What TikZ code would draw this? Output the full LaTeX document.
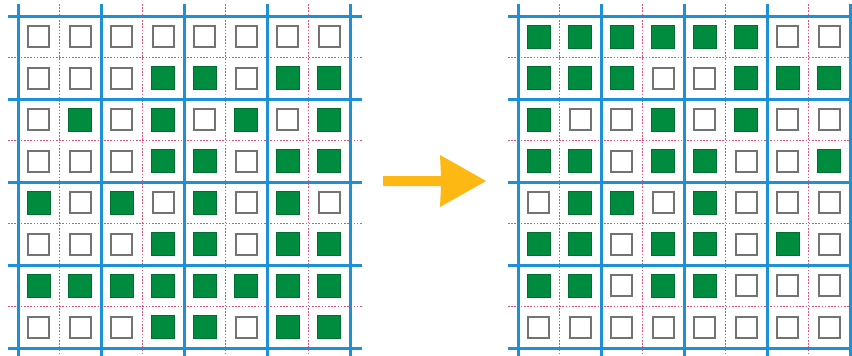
\documentclass[tikz,border=0pt]{standalone}
\definecolor{gridblue}{RGB}{30,144,214}
\definecolor{gridred}{RGB}{222,80,125}
\definecolor{sqgreen}{RGB}{0,140,62}
\definecolor{sqgreenedge}{RGB}{0,110,50}
\definecolor{sqgray}{RGB}{115,115,115}
\definecolor{arrowamber}{RGB}{253,184,19}
\begin{document}
\begin{tikzpicture}[x=1pt,y=-1pt,
  blueline/.style={draw=gridblue,line width=3pt},
  redline/.style={draw=gridred,line width=1.4pt,dash pattern=on 1.6pt off 1.6pt},
  fullsq/.style={fill=sqgreen,draw=sqgreenedge,line width=0.8pt},
  emptysq/.style={fill=white,draw=sqgray,line width=2.2pt}]
\useasboundingbox (0,0) rectangle (852,356);
\newcommand{\drawgrid}[2]{%
  \foreach \i in {0,...,3} {
    \draw[redline] ({#1+41.5+83*\i},4) -- ({#1+41.5+83*\i},356);
    \draw[redline] ({#1-10},{16+41.5+83*\i}) -- ({#1+344},{16+41.5+83*\i});
  }
  \foreach \i in {0,...,4} {
    \draw[blueline] ({#1+83*\i},4) -- ({#1+83*\i},356);
    \draw[blueline] ({#1-10},{16+83*\i}) -- ({#1+344},{16+83*\i});
  }
  \foreach \row [count=\r from 0] in {#2} {
    \foreach \v [count=\c from 0] in \row {
      \ifnum\v=1
        \filldraw[fullsq] ({#1+20.75+41.5*\c-11.5},{16+20.75+41.5*\r-11.5}) rectangle ++(23,23);
      \else
        \filldraw[emptysq] ({#1+20.75+41.5*\c-10.5},{16+20.75+41.5*\r-10.5}) rectangle ++(21,21);
      \fi
    }
  }
}
\drawgrid{18}{{0,0,0,0,0,0,0,0},{0,0,0,1,1,0,1,1},{0,1,0,1,0,1,0,1},{0,0,0,1,1,0,1,1},{1,0,1,0,1,0,1,0},{0,0,0,1,1,0,1,1},{1,1,1,1,1,1,1,1},{0,0,0,1,1,0,1,1}}
\drawgrid{518}{{1,1,1,1,1,1,0,0},{1,1,1,0,0,1,1,1},{1,0,0,1,0,1,0,0},{1,1,0,1,1,0,0,1},{0,1,1,0,1,0,0,0},{1,1,0,1,1,0,1,0},{1,1,0,1,1,0,0,0},{0,0,0,0,0,0,0,0}}
\fill[arrowamber] (383,176) -- (441,176) -- (440,155) -- (486,181) -- (440,207) -- (441,186) -- (383,186) -- cycle;
\end{tikzpicture}
\end{document}
